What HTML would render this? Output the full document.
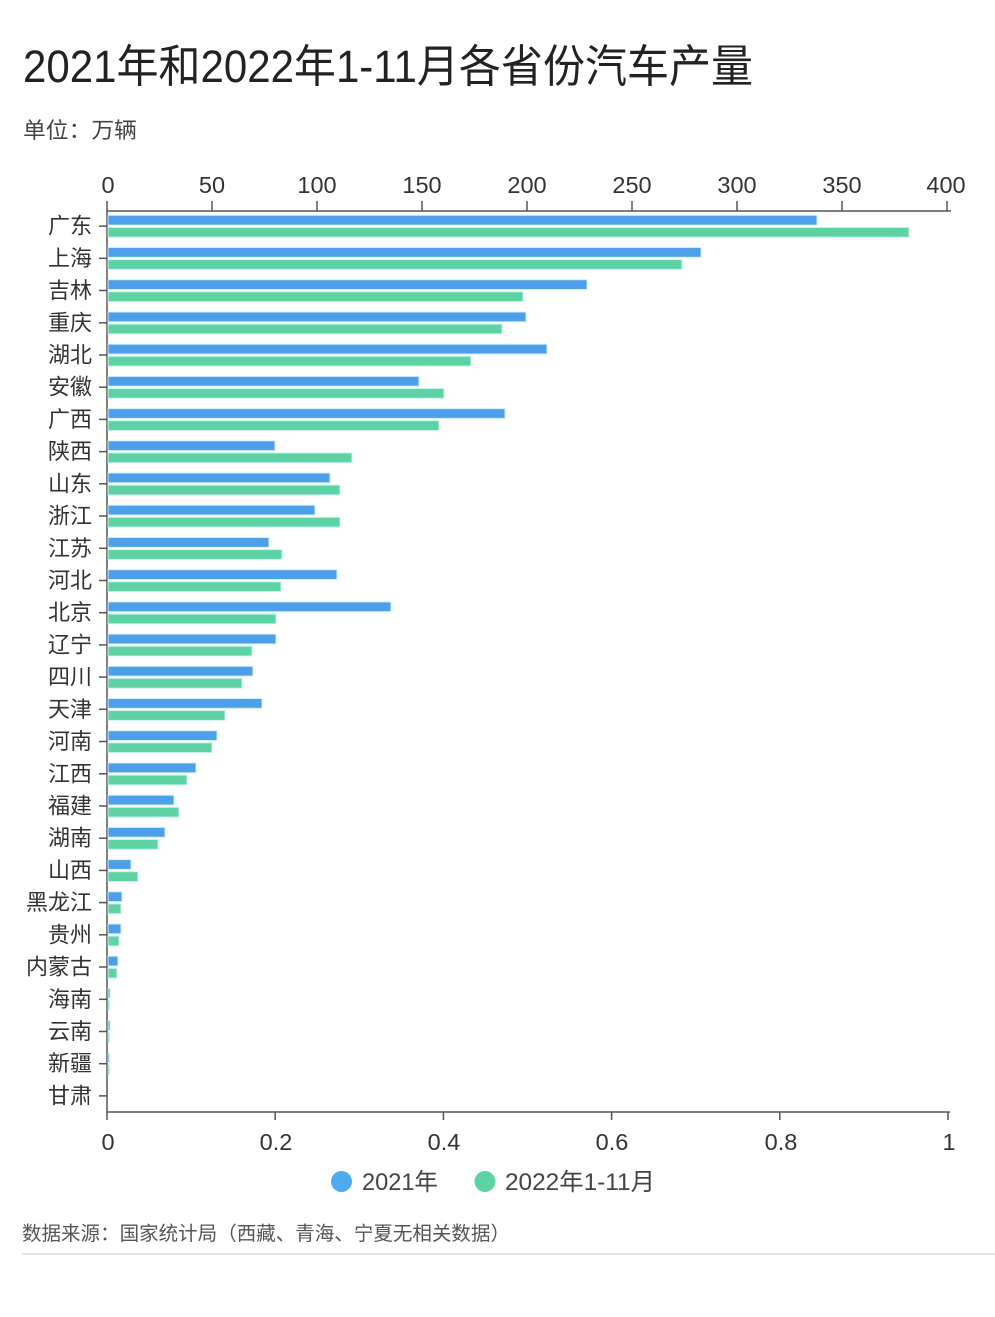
<!DOCTYPE html>
<html>
<head>
<meta charset="utf-8">
<style>
html,body{margin:0;padding:0;background:#fff;}
svg{display:block;}
text{font-family:"Liberation Sans","Noto Sans CJK SC",sans-serif;}
</style>
</head>
<body>
<svg width="995" height="1317" viewBox="0 0 995 1317" xmlns="http://www.w3.org/2000/svg">
<rect width="995" height="1317" fill="#fff"/>
<!-- Title -->
<text x="23" y="82" font-size="45" fill="#222" textLength="730" lengthAdjust="spacingAndGlyphs">2021年和2022年1-11月各省份汽车产量</text>
<text x="23" y="138" font-size="22" fill="#444" textLength="114" lengthAdjust="spacingAndGlyphs">单位：万辆</text>

<!-- top axis -->
<g stroke="#555" stroke-width="1.5" fill="none">
<line x1="107" y1="211" x2="951" y2="211"/>
<line x1="107" y1="201" x2="107" y2="211"/>
<line x1="212" y1="201" x2="212" y2="211"/>
<line x1="317" y1="201" x2="317" y2="211"/>
<line x1="422" y1="201" x2="422" y2="211"/>
<line x1="527" y1="201" x2="527" y2="211"/>
<line x1="632" y1="201" x2="632" y2="211"/>
<line x1="737" y1="201" x2="737" y2="211"/>
<line x1="842" y1="201" x2="842" y2="211"/>
<line x1="947" y1="201" x2="947" y2="211"/>
</g>
<g font-size="23.5" fill="#333" text-anchor="middle">
<text x="108" y="193">0</text>
<text x="212" y="193">50</text>
<text x="317" y="193">100</text>
<text x="422" y="193">150</text>
<text x="527" y="193">200</text>
<text x="632" y="193">250</text>
<text x="737" y="193">300</text>
<text x="842" y="193">350</text>
<text x="946" y="193">400</text>
</g>

<!-- bottom axis -->
<g stroke="#555" stroke-width="1.5" fill="none">
<line x1="107" y1="1112" x2="950" y2="1112"/>
<line x1="107" y1="1112" x2="107" y2="1120"/>
<line x1="275.2" y1="1112" x2="275.2" y2="1120"/>
<line x1="443.4" y1="1112" x2="443.4" y2="1120"/>
<line x1="611.6" y1="1112" x2="611.6" y2="1120"/>
<line x1="779.8" y1="1112" x2="779.8" y2="1120"/>
<line x1="948" y1="1112" x2="948" y2="1120"/>
<line x1="107" y1="211" x2="107" y2="1112"/>
</g>
<g font-size="23.5" fill="#333" text-anchor="middle">
<text x="108" y="1150">0</text>
<text x="276" y="1150">0.2</text>
<text x="444" y="1150">0.4</text>
<text x="612" y="1150">0.6</text>
<text x="781" y="1150">0.8</text>
<text x="949" y="1150">1</text>
</g>

<!-- y ticks -->
<g stroke="#555" stroke-width="1.5">
<line x1="99" y1="226.1" x2="107" y2="226.1"/>
<line x1="99" y1="258.3" x2="107" y2="258.3"/>
<line x1="99" y1="290.5" x2="107" y2="290.5"/>
<line x1="99" y1="322.8" x2="107" y2="322.8"/>
<line x1="99" y1="355.0" x2="107" y2="355.0"/>
<line x1="99" y1="387.2" x2="107" y2="387.2"/>
<line x1="99" y1="419.4" x2="107" y2="419.4"/>
<line x1="99" y1="451.6" x2="107" y2="451.6"/>
<line x1="99" y1="483.8" x2="107" y2="483.8"/>
<line x1="99" y1="516.0" x2="107" y2="516.0"/>
<line x1="99" y1="548.3" x2="107" y2="548.3"/>
<line x1="99" y1="580.5" x2="107" y2="580.5"/>
<line x1="99" y1="612.7" x2="107" y2="612.7"/>
<line x1="99" y1="644.9" x2="107" y2="644.9"/>
<line x1="99" y1="677.1" x2="107" y2="677.1"/>
<line x1="99" y1="709.3" x2="107" y2="709.3"/>
<line x1="99" y1="741.5" x2="107" y2="741.5"/>
<line x1="99" y1="773.8" x2="107" y2="773.8"/>
<line x1="99" y1="806.0" x2="107" y2="806.0"/>
<line x1="99" y1="838.2" x2="107" y2="838.2"/>
<line x1="99" y1="870.4" x2="107" y2="870.4"/>
<line x1="99" y1="902.6" x2="107" y2="902.6"/>
<line x1="99" y1="934.8" x2="107" y2="934.8"/>
<line x1="99" y1="967.0" x2="107" y2="967.0"/>
<line x1="99" y1="999.3" x2="107" y2="999.3"/>
<line x1="99" y1="1031.5" x2="107" y2="1031.5"/>
<line x1="99" y1="1063.7" x2="107" y2="1063.7"/>
<line x1="99" y1="1095.9" x2="107" y2="1095.9"/>
</g>

<!-- y labels -->
<g font-size="22" fill="#333" text-anchor="end">
<text x="92" y="233.6">广东</text>
<text x="92" y="265.8">上海</text>
<text x="92" y="298.0">吉林</text>
<text x="92" y="330.3">重庆</text>
<text x="92" y="362.5">湖北</text>
<text x="92" y="394.7">安徽</text>
<text x="92" y="426.9">广西</text>
<text x="92" y="459.1">陕西</text>
<text x="92" y="491.3">山东</text>
<text x="92" y="523.5">浙江</text>
<text x="92" y="555.8">江苏</text>
<text x="92" y="588.0">河北</text>
<text x="92" y="620.2">北京</text>
<text x="92" y="652.4">辽宁</text>
<text x="92" y="684.6">四川</text>
<text x="92" y="716.8">天津</text>
<text x="92" y="749.0">河南</text>
<text x="92" y="781.3">江西</text>
<text x="92" y="813.5">福建</text>
<text x="92" y="845.7">湖南</text>
<text x="92" y="877.9">山西</text>
<text x="92" y="910.1">黑龙江</text>
<text x="92" y="942.3">贵州</text>
<text x="92" y="974.5">内蒙古</text>
<text x="92" y="1006.8">海南</text>
<text x="92" y="1039.0">云南</text>
<text x="92" y="1071.2">新疆</text>
<text x="92" y="1103.4">甘肃</text>
</g>

<!-- blue bars (2021) : y = c-10.8 -->
<g fill="#4d9fe9" stroke="#cdf2f8" stroke-width="1">
<rect x="108" y="215.3" width="709" height="9.8"/>
<rect x="108" y="247.5" width="593" height="9.8"/>
<rect x="108" y="279.7" width="479" height="9.8"/>
<rect x="108" y="312.0" width="418" height="9.8"/>
<rect x="108" y="344.2" width="439" height="9.8"/>
<rect x="108" y="376.4" width="311" height="9.8"/>
<rect x="108" y="408.6" width="397" height="9.8"/>
<rect x="108" y="440.8" width="167" height="9.8"/>
<rect x="108" y="473.0" width="222" height="9.8"/>
<rect x="108" y="505.2" width="207" height="9.8"/>
<rect x="108" y="537.5" width="161" height="9.8"/>
<rect x="108" y="569.7" width="229" height="9.8"/>
<rect x="108" y="601.9" width="283" height="9.8"/>
<rect x="108" y="634.1" width="168" height="9.8"/>
<rect x="108" y="666.3" width="145" height="9.8"/>
<rect x="108" y="698.5" width="154" height="9.8"/>
<rect x="108" y="730.7" width="109" height="9.8"/>
<rect x="108" y="763.0" width="88" height="9.8"/>
<rect x="108" y="795.2" width="66" height="9.8"/>
<rect x="108" y="827.4" width="57" height="9.8"/>
<rect x="108" y="859.6" width="23" height="9.8"/>
<rect x="108" y="891.8" width="14" height="9.8"/>
<rect x="108" y="924.0" width="13" height="9.8"/>
<rect x="108" y="956.2" width="10" height="9.8"/>
<rect x="108" y="988.5" width="2" height="9.8"/>
<rect x="108" y="1020.7" width="2" height="9.8"/>
<rect x="108" y="1052.9" width="1.5" height="9.8"/>
</g>

<!-- green bars (2022 1-11) : y = c+1.3 -->
<g fill="#5dd3a4" stroke="#cdf2f8" stroke-width="1">
<rect x="108" y="227.4" width="801" height="9.8"/>
<rect x="108" y="259.6" width="574" height="9.8"/>
<rect x="108" y="291.8" width="415" height="9.8"/>
<rect x="108" y="324.1" width="394" height="9.8"/>
<rect x="108" y="356.3" width="363" height="9.8"/>
<rect x="108" y="388.5" width="336" height="9.8"/>
<rect x="108" y="420.7" width="331" height="9.8"/>
<rect x="108" y="452.9" width="244" height="9.8"/>
<rect x="108" y="485.1" width="232" height="9.8"/>
<rect x="108" y="517.3" width="232" height="9.8"/>
<rect x="108" y="549.6" width="174" height="9.8"/>
<rect x="108" y="581.8" width="173" height="9.8"/>
<rect x="108" y="614.0" width="168" height="9.8"/>
<rect x="108" y="646.2" width="144" height="9.8"/>
<rect x="108" y="678.4" width="134" height="9.8"/>
<rect x="108" y="710.6" width="117" height="9.8"/>
<rect x="108" y="742.8" width="104" height="9.8"/>
<rect x="108" y="775.1" width="79" height="9.8"/>
<rect x="108" y="807.3" width="71" height="9.8"/>
<rect x="108" y="839.5" width="50" height="9.8"/>
<rect x="108" y="871.7" width="30" height="9.8"/>
<rect x="108" y="903.9" width="13" height="9.8"/>
<rect x="108" y="936.1" width="11" height="9.8"/>
<rect x="108" y="968.3" width="9" height="9.8"/>
<rect x="108" y="1000.6" width="1.5" height="9.8"/>
<rect x="108" y="1032.8" width="1.5" height="9.8"/>
<rect x="108" y="1065.0" width="1.5" height="9.8"/>
</g>

<!-- legend -->
<circle cx="341.5" cy="1181.5" r="10.5" fill="#4faaf0"/>
<text x="362" y="1190" font-size="24" fill="#444" textLength="76" lengthAdjust="spacingAndGlyphs">2021年</text>
<circle cx="485" cy="1181.5" r="10.5" fill="#5dd3a4"/>
<text x="505" y="1190" font-size="24" fill="#444" textLength="150" lengthAdjust="spacingAndGlyphs">2022年1-11月</text>

<!-- source -->
<text x="22" y="1240" font-size="19.5" fill="#555" textLength="488" lengthAdjust="spacingAndGlyphs">数据来源：国家统计局（西藏、青海、宁夏无相关数据）</text>
<line x1="22" y1="1254" x2="995" y2="1254" stroke="#e2e2e2" stroke-width="2"/>
</svg>
</body>
</html>
